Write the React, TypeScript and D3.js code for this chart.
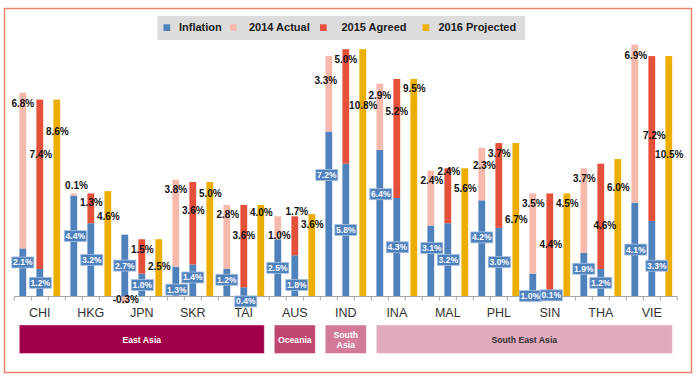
import React from "react";
import * as d3 from "d3";

// ---- data ----
const countries = ["CHI", "HKG", "JPN", "SKR", "TAI", "AUS", "IND", "INA", "MAL", "PHL", "SIN", "THA", "VIE"];
const inflation2014 = [2.1, 4.4, 2.7, 1.3, 1.2, 2.5, 7.2, 6.4, 3.1, 4.2, 1.0, 1.9, 4.1];
const actual2014 = [6.8, 0.1, -0.3, 3.8, 2.8, 1.0, 3.3, 2.9, 2.4, 2.3, 3.5, 3.7, 6.9];
const inflation2015 = [1.2, 3.2, 1.0, 1.4, 0.4, 1.8, 5.8, 4.3, 3.2, 3.0, 0.1, 1.2, 3.3];
const agreed2015 = [7.4, 1.3, 1.5, 3.6, 3.6, 1.7, 5.0, 5.2, 2.4, 3.7, 4.4, 4.6, 7.2];
const projected2016 = [8.6, 4.6, 2.5, 5.0, 4.0, 3.6, 10.8, 9.5, 5.6, 6.7, 4.5, 6.0, 10.5];
const regionNames = ["East Asia", "Oceania", "South\nAsia", "South East Asia"];
const regionCounts = [5, 1, 1, 6];
const legendLabels = ["Inflation", "2014 Actual", "2015 Agreed", "2016 Projected"];

// ---- label placement (manual nudges in px, as in the original) ----
const blue1Nudge = [-10, -10, 0, 8, -3, 0, -39, -29, -13, -11, 11, -6, 0];
const blue2Nudge = [0, 0, 0, -3, 9.5, 9, 0, 0, 0, 0, 0, 0, 7];
const blue1NudgeX = [0, 1.5, 0, 1, 0, 0, -2, 1, 1, 0, -2.5, 0, 1];
const blue2NudgeX = [0.5, 1, 0.5, 0, 2, 2, 0, 0.5, 0.5, 0.5, 1.5, 0, 5];
const pinkOffset = [11, -8, -4, 10, 10, 19, 24, 12, 10, 18, 10, 10.5, 10.4];
const pinkNudgeX = [0, 2.7, 1, 0, 1, 1.5, -3, 0, 1, 2.5, 0.5, 0.5, 1];
const redOffset = [54.5, 9, 10, 28, 31, -4.4, 10.5, 33, 3, 10, 51, 62, 79.7];
const redNudgeX = [1, 0.5, 0.5, 0.5, 0, 2, 0, 0, 1, 0.5, 1, 4, 2.5];
const yellowOffset = [32, 25, 27.5, 11, 8, 10, 56, 10, 20, 76.6, 10, 28.7, 98.7];

// ---- style ----
const C_BLUE = "#4f81bd";
const C_PINK = "#f6b9ac";
const C_RED = "#e5503a";
const C_YELLOW = "#ecae00";
const regionFill = ["#a1004b", "#c0476f", "#d47a99", "#e1aabd"];
const regionText = ["#ffffff", "#ffffff", "#ffffff", "#333333"];
const FONT = "'Liberation Sans', Arial, sans-serif";

const W = 700;
const H = 377;
const X0 = 14.3;
const X1 = 677.3;
const Y0 = 296.5;
const PX_PER_UNIT = 22.9;

export default function App() {
  const nSlots = countries.length * 3;
  const slot = d3.scaleBand<number>().domain(d3.range(nSlots)).range([X0, X1]).padding(0);
  const step = slot.step();
  const barW = step * 0.4;
  const y = d3.scaleLinear().domain([0, 12]).range([Y0, Y0 - PX_PER_UNIT * 12]);
  const cx = (i: number) => (slot(i) as number) + step / 2;
  const fmt = (v: number) => v.toFixed(1) + "%";

  const rects: any[] = [];
  const blackLabels: any[] = [];
  const blueLabels: any[] = [];

  countries.forEach((c, k) => {
    const i1 = k * 3, i2 = k * 3 + 1, i3 = k * 3 + 2;
    // bar 1: inflation 2014 + 2014 actual
    const b1 = inflation2014[k];
    const p = actual2014[k];
    rects.push({ x: cx(i1) - barW / 2, y0: 0, y1: b1, fill: C_BLUE });
    const pStart = p >= 0 ? b1 : 0;
    const pEnd = pStart + p;
    rects.push({ x: cx(i1) - barW / 2, y0: pStart, y1: pEnd, fill: C_PINK });
    blueLabels.push({ x: cx(i1) + blue1NudgeX[k], y: (y(0) + y(b1)) / 2 + blue1Nudge[k], t: fmt(b1) });
    blackLabels.push({ x: cx(i1) + pinkNudgeX[k], y: y(pEnd) + pinkOffset[k], t: fmt(p) });
    // bar 2: inflation 2015 + 2015 agreed
    const b2 = inflation2015[k];
    const r = agreed2015[k];
    rects.push({ x: cx(i2) - barW / 2, y0: 0, y1: b2, fill: C_BLUE });
    rects.push({ x: cx(i2) - barW / 2, y0: b2, y1: b2 + r, fill: C_RED });
    blueLabels.push({ x: cx(i2) + blue2NudgeX[k], y: (y(0) + y(b2)) / 2 + blue2Nudge[k], t: fmt(b2) });
    blackLabels.push({ x: cx(i2) + redNudgeX[k], y: y(b2 + r) + redOffset[k], t: fmt(r) });
    // bar 3: 2016 projected
    const yv = projected2016[k];
    rects.push({ x: cx(i3) - barW / 2, y0: 0, y1: yv, fill: C_YELLOW });
    blackLabels.push({ x: cx(i3) + 0.5, y: y(yv) + yellowOffset[k], t: fmt(yv) });
  });

  // region boxes
  const regionBoxes: any[] = [];
  let acc = 0;
  regionNames.forEach((name, r) => {
    const s = acc * 3;
    const e = (acc + regionCounts[r]) * 3;
    acc += regionCounts[r];
    const x0 = (slot(s) as number) + 5;
    const x1 = (e >= nSlots ? X1 : (slot(e) as number)) - 5;
    regionBoxes.push({ x0, x1, name, fill: regionFill[r], color: regionText[r] });
  });

  const legendSq = [163.5, 230, 320, 422.5];
  const legendTx = [179, 249, 341.5, 438.5];
  const legendColors = [C_BLUE, C_PINK, C_RED, C_YELLOW];

  return (
    <svg width={W} height={H} style={{ position: "absolute", left: 0, top: 0, background: "#fff" }} fontFamily={FONT}>
      <rect x={0} y={0} width={W} height={H} fill="#fff" />
      <rect x={4.5} y={8.5} width={687} height={364} fill="none" stroke="#f2846e" strokeWidth={1.5} />

      {/* legend */}
      <rect x={157.5} y={16} width={367.5} height={24} fill="#dcdcdc" />
      {legendLabels.map((l, j) => (
        <g key={l}>
          <rect x={legendSq[j]} y={24.3} width={6.7} height={6.7} fill={legendColors[j]} />
          <text x={legendTx[j]} y={31} fontSize={11} fontWeight="bold" fill="#1a1a1a">{l}</text>
        </g>
      ))}

      {/* bars */}
      {rects.map((r, j) => (
        <rect key={j} x={r.x} width={barW} y={Math.min(y(r.y0), y(r.y1))} height={Math.abs(y(r.y1) - y(r.y0))} fill={r.fill} />
      ))}

      {/* axis */}
      <line x1={X0} x2={X1} y1={Y0} y2={Y0} stroke="#a6a6a6" strokeWidth={1} />
      {d3.range(nSlots + 1).map((i) => {
        const tx = i === nSlots ? X1 : (slot(i) as number);
        return <line key={i} x1={tx} x2={tx} y1={Y0} y2={Y0 + 4} stroke="#a6a6a6" strokeWidth={1} />;
      })}
      {countries.map((c, k) => (
        <text key={c} x={cx(k * 3 + 1)} y={317} fontSize={12.5} fill="#333" textAnchor="middle">{c}</text>
      ))}

      {/* black labels */}
      {blackLabels.map((l, j) => (
        <text key={j} x={l.x} y={l.y} dy="0.35em" fontSize={10} fontWeight="bold" fill="#111" textAnchor="middle">{l.t}</text>
      ))}

      {/* blue labels */}
      {blueLabels.map((l, j) => (
        <g key={j}>
          <rect x={l.x - 11} y={l.y - 5.5} width={22} height={11} fill={C_BLUE} stroke="#a9c1e0" strokeWidth={0.8} />
          <text x={l.x} y={l.y} dy="0.35em" fontSize={8.5} fontWeight="bold" fill="#fff" textAnchor="middle">{l.t}</text>
        </g>
      ))}

      {/* regions */}
      {regionBoxes.map((r, j) => {
        const lines = r.name.split("\n");
        return (
          <g key={j}>
            <rect x={r.x0} y={325} width={r.x1 - r.x0} height={28.5} fill={r.fill} stroke="#ffffff" strokeOpacity={0.4} strokeWidth={1} />
            {lines.map((ln: string, q: number) => (
              <text key={q} x={(r.x0 + r.x1) / 2} y={339.5 + (q - (lines.length - 1) / 2) * 10} dy="0.35em" fontSize={8.7} fontWeight="bold" fill={r.color} textAnchor="middle">{ln}</text>
            ))}
          </g>
        );
      })}
    </svg>
  );
}
